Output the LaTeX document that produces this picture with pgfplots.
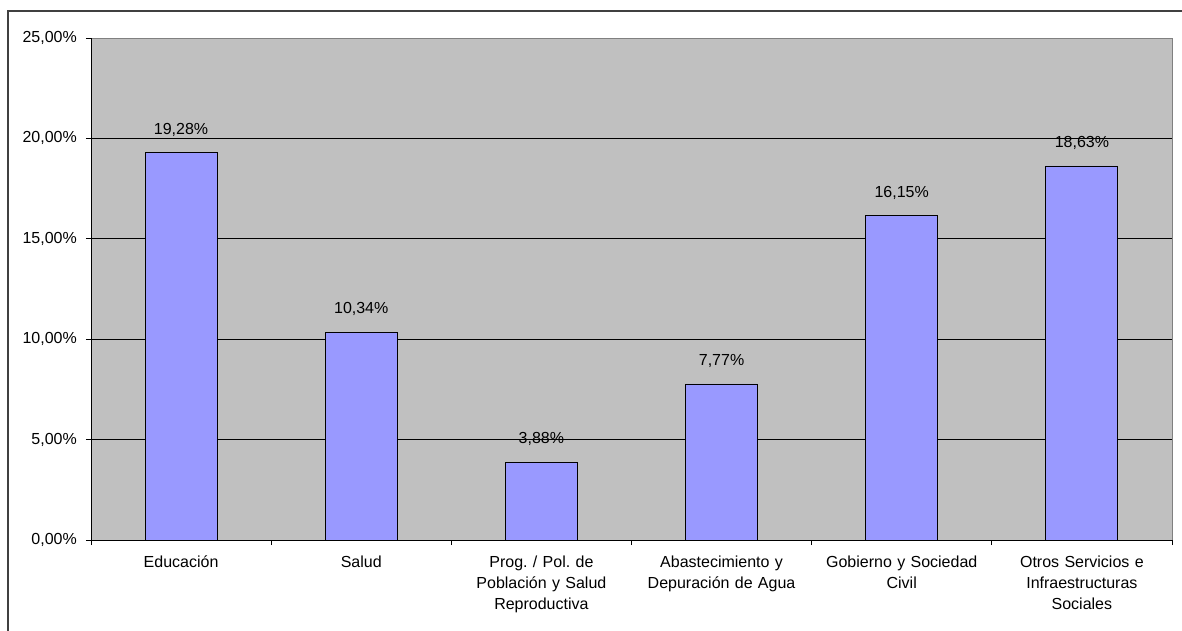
\documentclass[border=0pt]{standalone}
\usepackage{fontspec}
\setmainfont{Liberation Sans}
\usepackage{pgfplots}
\pgfplotsset{compat=1.18}
\definecolor{plotbg}{HTML}{C0C0C0}
\definecolor{barfill}{HTML}{9999FF}
\definecolor{plotframe}{HTML}{808080}
\newcommand\lblfont{\fontsize{16}{21}\selectfont}
\frenchspacing
\begin{document}
\begin{tikzpicture}
  \begin{axis}[
    at={(0pt,0pt)}, anchor=south west,
    scale only axis,
    width=1081pt, height=502pt,
    xmin=-0.5, xmax=5.5,
    ymin=0, ymax=25,
    axis x line*=bottom,
    axis y line*=left,
    axis line style={-, black, line width=0.8pt},
    axis background/.style={fill=plotbg, draw=plotframe, line width=0.8pt},
    ytick={0,5,...,20},
    yticklabels={0{,}00\%,5{,}00\%,10{,}00\%,15{,}00\%,20{,}00\%},
    extra y ticks={25},
    extra y tick labels={25{,}00\%},
    extra y tick style={grid=none},
    ymajorgrids,
    major grid style={black, line width=0.8pt},
    xtick={0,...,5},
    xticklabels={
      Educación,
      Salud,
      {Prog. / Pol. de\\Población y Salud\\Reproductiva},
      {Abastecimiento y\\Depuración de Agua},
      {Gobierno y Sociedad\\Civil},
      {Otros Servicios e\\Infraestructuras\\Sociales}},
    xtick style={draw=none},
    extra x ticks={-0.5,0.5,...,5.5},
    extra x tick labels={},
    extra x tick style={xtick style={draw=black, line width=0.8pt}, major tick length=5pt, tick align=outside},
    ytick style={black, line width=0.8pt},
    tick align=outside,
    major tick length=5pt,
    tick label style={font=\lblfont, text=black},
    yticklabel style={inner sep=0pt, xshift=-9pt},
    xticklabel style={inner sep=0pt, yshift=-11pt, align=center, text width=180pt},
    clip=false,
  ]
    \addplot[ybar, bar width=72pt, fill=barfill, draw=black, line width=0.8pt,
      point meta=explicit symbolic,
      nodes near coords,
      every node near coord/.append style={font=\lblfont, inner sep=0pt, anchor=south, yshift=16pt}]
      coordinates {
      (0,19.28) [19,28\%]
      (1,10.34) [10,34\%]
      (2,3.88)  [3,88\%]
      (3,7.77)  [7,77\%]
      (4,16.15) [16,15\%]
      (5,18.63) [18,63\%]
    };
  \end{axis}
  \draw[black!75, line width=1.3pt] (-83pt,-95pt) -- (-83pt,529pt) -- (1095pt,529pt);
  \pgfresetboundingbox
  \path[use as bounding box] (-91pt,-90pt) rectangle (1091pt,540pt);
\end{tikzpicture}
\end{document}
